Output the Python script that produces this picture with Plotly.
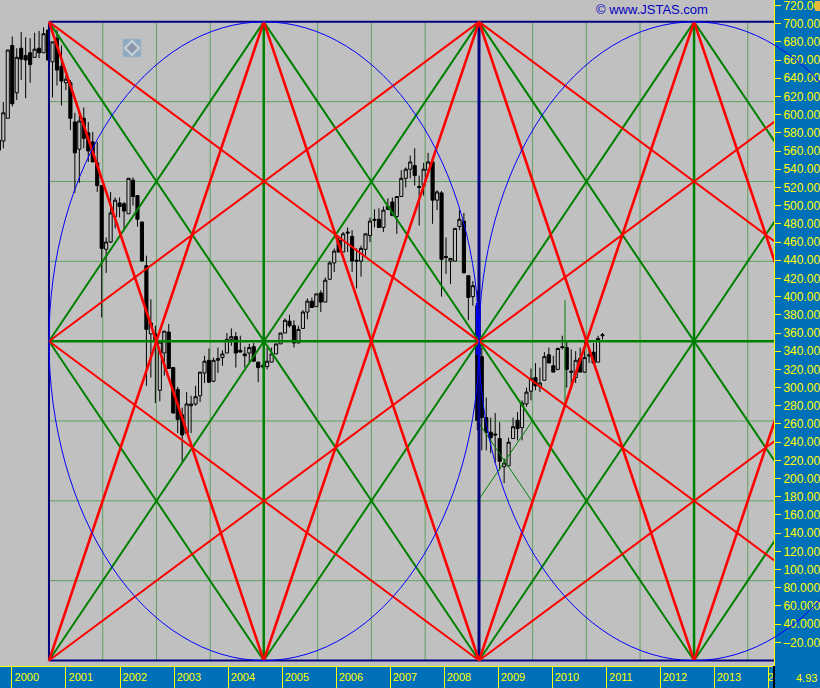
import plotly.graph_objects as go

# ---------- monthly candles, Oct 1999 .. Jan 2011 ----------
OPEN = [572,571,596,676,624,673,665,668,663,673,668,693,658,684,653,635,635,592,562,596,580,570,547,522,452,460,488,503,502,491,528,511,482,434,359,359,297,338,361,322,298,270,250,280,282,291,316,330,307,330,333,338,353,356,341,337,338,345,328,324,323,328,337,348,360,373,368,349,365,383,395,389,404,394,419,437,462,449,471,466,440,439,452,467,485,485,476,499,504,488,510,530,540,544,521,522,539,548,506,514,444,439,439,477,483,423,400,390,334,267,251,249,244,213,214,244,264,256,282,296,311,301,308,336,324,320,345,344,318,311,332,317,336,339,328,357]
HIGH = [572,614,671,686,673,691,685,684,690,692,696,693,680,693,676,643,638,602,602,608,592,581,570,522,465,515,509,509,504,530,531,511,482,445,397,368,350,362,370,322,301,278,295,291,302,317,335,343,333,344,341,360,365,361,357,345,348,349,328,326,344,344,348,360,376,380,374,368,385,398,399,403,407,421,439,453,467,471,476,473,453,456,469,487,496,497,499,508,509,510,539,542,555,563,533,547,558,550,517,516,465,442,475,495,492,423,417,407,344,289,267,272,262,222,245,267,273,286,300,321,327,322,339,344,335,344,357,350,342,340,344,352,344,349,357,360]
LOW = [549,563,596,609,616,638,618,635,663,662,668,660,619,632,610,627,583,514,525,563,548,548,515,377,426,459,475,487,473,491,500,477,439,302,311,283,285,313,321,272,250,218,250,250,280,284,305,305,306,316,324,338,346,322,339,322,328,329,306,321,320,328,337,348,360,366,344,349,365,375,388,389,383,394,419,427,449,449,449,427,409,422,445,460,476,476,471,495,489,469,510,520,530,522,478,511,539,480,495,400,425,414,439,473,426,374,390,253,231,231,228,217,209,195,214,244,242,242,279,286,297,295,308,327,317,319,342,300,300,305,317,316,327,327,328,353]
CLOSE = [561,602,671,612,663,661,660,655,672,668,689,660,680,649,637,639,596,558,593,574,560,548,522,453,460,492,506,499,494,530,510,485,439,364,371,351,350,362,321,272,265,248,282,282,290,317,329,306,330,332,337,353,356,338,339,335,344,329,322,323,329,337,348,360,374,368,349,364,383,395,388,403,394,418,437,450,449,469,470,439,439,453,469,483,484,476,495,496,489,510,530,540,548,533,520,540,548,506,515,441,443,442,475,485,426,399,412,264,267,251,245,248,219,217,240,257,255,283,295,310,302,305,334,327,317,343,344,320,317,330,317,333,335,327,354,358]

FIRST_CANDLE = 2000.005 - 3 * 0.0828
CANDLE_STEP = 0.0828
candle_x = [FIRST_CANDLE + i * CANDLE_STEP for i in range(len(OPEN))]

# ---------- Gann grid ----------
COLUMNS = [2000.685, 2004.662, 2008.648, 2012.63, 2016.61]
TOP, MID, BOTTOM = 702, 351, 0
RIGHT_EDGE = 2014.2
GRID_Y = [87.75, 175.5, 263.25, 438.75, 526.5, 614.25]
GRID_X = [2001.68, 2002.675, 2003.67, 2005.66, 2006.655, 2007.65, 2009.64, 2010.635, 2011.63, 2013.625]
c0, c1, c2, c3, c4 = COLUMNS
GREEN_LINES = [
    ((c0, TOP), (c2, BOTTOM)), ((c0, BOTTOM), (c2, TOP)),
    ((c1, TOP), (c3, BOTTOM)), ((c1, BOTTOM), (c3, TOP)),
    ((c2, TOP), (c4, BOTTOM)), ((c2, BOTTOM), (c4, TOP)),
    ((c0, MID), (c1, TOP)), ((c0, MID), (c1, BOTTOM)),
    ((c3, TOP), (c4, MID)), ((c3, BOTTOM), (c4, MID)),
]
RED_STEEP = [
    ((c0, TOP), (c1, BOTTOM)), ((c0, BOTTOM), (c1, TOP)),
    ((c1, TOP), (c2, BOTTOM)), ((c1, BOTTOM), (c2, TOP)),
    ((c2, TOP), (c3, BOTTOM)), ((c2, BOTTOM), (c3, TOP)),
    ((c3, TOP), (c4, BOTTOM)), ((c3, BOTTOM), (c4, TOP)),
]
RED_SHALLOW = [
    ((c0, TOP), (c4, BOTTOM)), ((c0, BOTTOM), (c4, TOP)),
    ((c0, MID), (c2, TOP)), ((c0, MID), (c2, BOTTOM)),
    ((c2, TOP), (c4, MID)), ((c2, BOTTOM), (c4, MID)),
]
THIN_GREEN = [((2008.62, 263), (2009.63, 175)), ((2008.62, 175), (2009.63, 263)), ((2010.24, 396), (2010.24, 281))]
BLUE_SEGMENT_X = [2008.635, 2008.635]
BLUE_SEGMENT_Y = [393, 336]

YEARS = list(range(2000, 2015))
YEAR_LABELS = [str(y) for y in range(2000, 2014)] + ["2"]
Y_TICKS = list(range(20, 721, 20))
Y_LABELS = [("\u2013" if v == 20 else "") + f"{v:.4f}"[:7] for v in Y_TICKS]

BG, PANEL, YEL = "#C0C0C0", "#0070B8", "#FFFF00"
W, H = 820, 688
ML, MR, MT, MB = 0, 46, 0, 22
PW, PH = W - ML - MR, H - MT - MB
XMIN, XMAX = 1999.778, 2014.11
YMIN, YMAX = -6, 726


def px(x):
    return x / PW


def py(y):
    return (PH - y) / PH


def xp(v):
    return (v - XMIN) / (XMAX - XMIN)


def yp(v):
    return (v - YMIN) / (YMAX - YMIN)


def segs(lines):
    xs, ys = [], []
    for (a, b), (d, e) in lines:
        xs += [a, d, None]
        ys += [b, e, None]
    return xs, ys


fig = go.Figure()
fig.add_trace(go.Candlestick(
    x=candle_x, open=OPEN, high=HIGH, low=LOW, close=CLOSE, whiskerwidth=0,
    increasing=dict(line=dict(color="#000000", width=1), fillcolor=BG),
    decreasing=dict(line=dict(color="#000000", width=1), fillcolor="#000000"),
    hoverinfo="skip", showlegend=False))
fig.add_trace(go.Scatter(x=BLUE_SEGMENT_X, y=BLUE_SEGMENT_Y, mode="lines",
                         line=dict(color="#0000FF", width=5), hoverinfo="skip", showlegend=False))


def add_lines(lines, color, width):
    xs, ys = segs(lines)
    fig.add_trace(go.Scatter(x=xs, y=ys, mode="lines", line=dict(color=color, width=width),
                             hoverinfo="skip", showlegend=False))


add_lines(THIN_GREEN, "#008000", 1)
add_lines([((c0, TOP), (RIGHT_EDGE, TOP)), ((c0, BOTTOM), (RIGHT_EDGE, BOTTOM)), ((c0, TOP), (c0, BOTTOM))], "#000080", 2)
add_lines([((c2, TOP), (c2, BOTTOM))], "#000080", 3)
add_lines([((c0, MID), (RIGHT_EDGE, MID)), ((c1, TOP), (c1, BOTTOM)), ((c3, TOP), (c3, BOTTOM))], "#008000", 2.5)
add_lines(GREEN_LINES, "#008000", 2)
add_lines(RED_SHALLOW, "#FF0000", 2)
add_lines(RED_STEEP, "#FF0000", 2.6)

shapes = []
for v in GRID_Y:
    shapes.append(dict(type="line", xref="x", yref="y", x0=c0, x1=RIGHT_EDGE, y0=v, y1=v,
                       layer="below", line=dict(color="#60A060", width=1)))
for v in GRID_X:
    shapes.append(dict(type="line", xref="x", yref="y", x0=v, x1=v, y0=BOTTOM, y1=TOP,
                       layer="below", line=dict(color="#60A060", width=1)))
# ellipses spill over the axis panel in the original, so they use paper coordinates
for a, b in [(c0, c2), (c2, c4)]:
    shapes.append(dict(type="circle", xref="paper", yref="paper",
                       x0=xp(a), x1=xp(b), y0=yp(BOTTOM), y1=yp(TOP),
                       line=dict(color="#0000FF", width=1)))
# black separator at the corner of the axis strips
shapes.append(dict(type="line", xref="paper", yref="paper", x0=1, x1=1, y0=0, y1=py(H - MT),
                   line=dict(color="#000000", width=2)))
# scroll-icon
shapes.append(dict(type="rect", xref="paper", yref="paper", x0=px(123), x1=px(141), y0=py(57), y1=py(39),
                   fillcolor="#8FA9C2", line=dict(color="#A4B4C4", width=1)))
shapes.append(dict(type="path", xref="paper", yref="paper",
                   path=f"M {px(132)} {py(41)} L {px(139)} {py(48)} L {px(132)} {py(55)} L {px(125)} {py(48)} Z",
                   fillcolor="#8A97A6", line=dict(color="#C8D2DC", width=2)))
# yellow corner icon
shapes.append(dict(type="rect", xref="paper", yref="paper", x0=1 + 41 / PW, x1=1 + 46 / PW, y0=py(11), y1=py(1),
                   fillcolor="#E8B83A", line=dict(width=0)))

annotations = [
    dict(text="\u00a9 www.JSTAS.com", xref="paper", yref="paper", x=px(594), y=py(10), xanchor="left",
         yanchor="middle", showarrow=False, font=dict(family="Liberation Sans", size=13, color="#0000C0")),
    dict(text="4.93", xref="paper", yref="paper", x=px(794), y=py(678), xanchor="left", yanchor="middle",
         showarrow=False, font=dict(family="Liberation Sans", size=11, color=YEL)),
]

fig.update_layout(
    width=W, height=H, margin=dict(l=ML, r=MR, t=MT, b=MB, pad=0, autoexpand=False),
    paper_bgcolor=PANEL, plot_bgcolor=BG, showlegend=False, hovermode=False,
    shapes=shapes, annotations=annotations, boxgap=0.3, boxgroupgap=0,
    xaxis=dict(type="linear", range=[XMIN, XMAX], rangeslider=dict(visible=False), showgrid=False,
               zeroline=False, showline=True, linecolor=YEL, linewidth=1,
               tickmode="array", tickvals=[y + 0.275 for y in YEARS[:-1]] + [2014.05], ticktext=YEAR_LABELS,
               ticks="outside", ticklen=1, tickcolor=PANEL, ticklabeloverflow="allow",
               tickfont=dict(family="Liberation Sans", size=11, color=YEL),
               minor=dict(tickmode="array", tickvals=YEARS, ticks="outside", ticklen=22,
                          tickcolor=YEL, tickwidth=1)),
    yaxis=dict(side="right", range=[YMIN, YMAX], showgrid=False, zeroline=False,
               showline=True, linecolor=YEL, linewidth=1, ticklabeloverflow="allow",
               tickmode="array", tickvals=Y_TICKS, ticktext=Y_LABELS,
               ticks="outside", ticklen=6, tickcolor=YEL, tickwidth=1,
               tickfont=dict(family="Liberation Sans", size=12, color=YEL)),
)

fig.write_html(
    "out.html",
    config={"displayModeBar": False, "responsive": False},
    post_script="document.body.style.margin='0';document.documentElement.style.overflow='hidden';document.documentElement.style.background='#0070B8';",
)
